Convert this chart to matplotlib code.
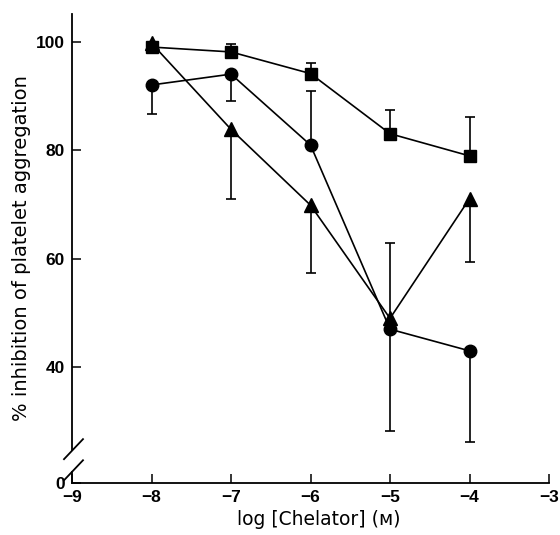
import numpy as np
import matplotlib
matplotlib.use("Agg")
import matplotlib.pyplot as plt

# -------------------------------
# Data
# -------------------------------
log_conc = [-8, -7, -6, -5, -4]

# squares
sq_mean = [99.1, 98.2, 94.2, 83.1, 79.0]
sq_err_lo = [0, 0, 0, 0, 0]
sq_err_hi = [0, 1.4, 2.0, 4.3, 7.1]

# circles
ci_mean = [92.1, 94.1, 81.0, 47.0, 43.0]
ci_err_lo = [5.4, 4.9, 0, 18.8, 16.9]
ci_err_hi = [0, 0, 10.0, 0, 0]

# triangles
tr_mean = [99.8, 83.9, 69.9, 49.0, 71.1]
tr_err_lo = [0, 12.8, 12.6, 0, 11.7]
tr_err_hi = [0, 0, 0, 14.0, 0]

y_ticks = [40, 60, 80, 100]
x_ticks = [-9, -8, -7, -6, -5, -4, -3]

# y axis is broken: the "0" sits at the foot of the axis
y_floor = 18.6
y_top = 105.2

# -------------------------------
# Figure
# -------------------------------
plt.rcParams["font.family"] = "DejaVu Sans"
fig = plt.figure(figsize=(5.6, 5.35), dpi=100)
ax = fig.add_axes([0.1286, 0.0972, 0.8518, 0.8766])

series = [
    (sq_mean, sq_err_lo, sq_err_hi, "s", 8),
    (ci_mean, ci_err_lo, ci_err_hi, "o", 9),
    (tr_mean, tr_err_lo, tr_err_hi, "^", 9.5),
]
for mean, lo, hi, mk, ms in series:
    x = np.array(log_conc, dtype=float)
    m = np.array(mean)
    lo = np.array(lo)
    hi = np.array(hi)
    # one-sided error bars, only where there is an error
    for err, sign in ((lo, -1), (hi, 1)):
        keep = err > 0
        ends = m[keep] + sign * err[keep]
        ax.vlines(x[keep], m[keep], ends, color="black", lw=1.2, zorder=1)
        ax.plot(x[keep], ends, ls="none", marker="_", ms=7, mew=1.2,
                color="black", zorder=1)
    ax.plot(x, m, color="black", lw=1.2, marker=mk, markersize=ms,
            zorder=2, clip_on=False)

ax.set_xlim(-9, -3)
ax.set_ylim(y_floor, y_top)
ax.set_xticks(x_ticks)
ax.set_xticklabels([f"\u2212{abs(t)}" for t in x_ticks])
ax.set_yticks([y_floor] + y_ticks)
ax.set_yticklabels(["0"] + [str(t) for t in y_ticks])
ax.tick_params(direction="in", length=6.5, width=1.1, pad=5)
for lab in ax.get_xticklabels() + ax.get_yticklabels():
    lab.set_fontfamily("Liberation Sans")
    lab.set_fontweight("bold")
    lab.set_fontsize(12.5)

ax.spines["top"].set_visible(False)
ax.spines["right"].set_visible(False)
ax.spines["bottom"].set_linewidth(1.3)
ax.spines["left"].set_linewidth(1.3)
ax.spines["left"].set_bounds(24.7, y_top)

# short stub below the break and the two break marks
yt = ax.get_yaxis_transform()
ax.plot([0, 0], [y_floor, 20.6], color="black", lw=1.3, transform=yt, clip_on=False)
ax.plot([-0.0168, 0.023], [23.0, 26.7], color="black", lw=1.3, transform=yt, clip_on=False)
ax.plot([-0.0168, 0.023], [19.1, 22.8], color="black", lw=1.3, transform=yt, clip_on=False)

ax.set_xlabel("log [Chelator] (\u1d0d)", fontsize=13.5)
ax.xaxis.set_label_coords(0.518, -0.058)
ax.set_ylabel("% inhibition of platelet aggregation", fontsize=14)
ax.yaxis.set_label_coords(-0.087, 0.5)

plt.savefig("out.png", dpi=100)
